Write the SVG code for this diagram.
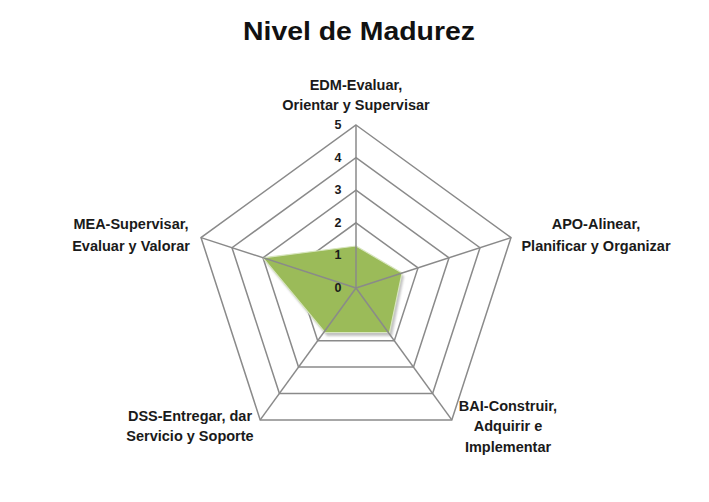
<svg xmlns="http://www.w3.org/2000/svg" width="709" height="502" viewBox="0 0 709 502">
<defs>
<style>
.ring{fill:none;stroke:#8a8a8a;stroke-width:1.5;stroke-linejoin:miter}
.spoke{stroke:#8a8a8a;stroke-width:1.5}
.lbl{font-family:"Liberation Sans",Arial,sans-serif;font-weight:bold;font-size:14.5px;fill:#1a1a1a;text-anchor:middle}
.tick{font-family:"Liberation Sans",Arial,sans-serif;font-weight:bold;font-size:12.5px;fill:#1a1a1a;text-anchor:middle;dominant-baseline:central}
</style>
<filter id="sh" x="-20%" y="-20%" width="140%" height="140%"><feGaussianBlur stdDeviation="1.2"/></filter>
</defs>
<rect width="709" height="502" fill="#ffffff"/>
<text id="title" x="359" y="40" textLength="232" lengthAdjust="spacingAndGlyphs" style="font-family:'Liberation Sans',Arial,sans-serif;font-weight:bold;font-size:25px;fill:#111;text-anchor:middle">Nivel de Madurez</text>
<g id="grid">
<polygon class="ring" points="356,255.4 387,277.9 375.2,314.4 336.8,314.4 325,277.9"/>
<polygon class="ring" points="356,222.8 418,267.9 394.3,340.7 317.7,340.7 294,267.9"/>
<polygon class="ring" points="356,190.2 449,257.8 413.5,367.1 298.5,367.1 263,257.8"/>
<polygon class="ring" points="356,157.6 480,247.7 432.6,393.5 279.4,393.5 232,247.7"/>
<polygon class="ring" points="356,125 511,237.6 451.8,419.9 260.2,419.9 201,237.6"/>
</g>
<g id="series">
<polygon points="358,249 404,276 392,336 327,336 265,261" fill="#9a9a9a" opacity="0.6" filter="url(#sh)"/>
<polygon points="356,246 402,273 389.5,332.5 325,332.5 263,257.8" fill="#9bbb59" stroke="#d8e6bf" stroke-width="1.2"/>
</g>
<g id="connectors">
<line class="spoke" x1="356" y1="288" x2="356" y2="125"/>
<line class="spoke" x1="356" y1="288" x2="511" y2="237.6"/>
<line class="spoke" x1="356" y1="288" x2="451.8" y2="419.9"/>
<line class="spoke" x1="356" y1="288" x2="260.2" y2="419.9"/>
<line class="spoke" x1="356" y1="288" x2="201" y2="237.6"/>
</g>
<g id="ticks">
<text class="tick" x="338" y="288">0</text>
<text class="tick" x="338" y="255.4">1</text>
<text class="tick" x="338" y="222.8">2</text>
<text class="tick" x="338" y="190.2">3</text>
<text class="tick" x="338" y="157.6">4</text>
<text class="tick" x="338" y="125">5</text>
</g>
<g id="EDM"><text class="lbl" x="356" y="90">EDM-Evaluar,</text><text class="lbl" x="356" y="110">Orientar y Supervisar</text></g>
<g id="APO"><text class="lbl" x="596" y="229">APO-Alinear,</text><text class="lbl" x="596" y="251">Planificar y Organizar</text></g>
<g id="BAI"><text class="lbl" x="508" y="411">BAI-Construir,</text><text class="lbl" x="508" y="431">Adquirir e</text><text class="lbl" x="508" y="452">Implementar</text></g>
<g id="DSS"><text class="lbl" x="190" y="421">DSS-Entregar, dar</text><text class="lbl" x="190" y="441">Servicio y Soporte</text></g>
<g id="MEA"><text class="lbl" x="131" y="229">MEA-Supervisar,</text><text class="lbl" x="131" y="251">Evaluar y Valorar</text></g>
</svg>
